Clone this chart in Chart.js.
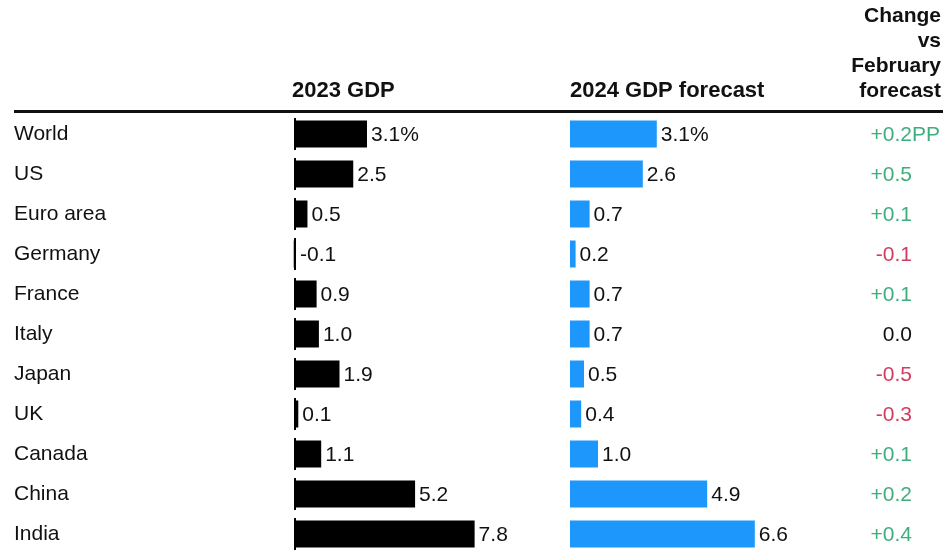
<!DOCTYPE html>
<html>
<head>
<meta charset="utf-8">
<script src="https://cdn.jsdelivr.net/npm/chart.js@4.4.1/dist/chart.umd.min.js"></script>
<style>
  body { margin: 0; background: #fff; }
  canvas { display: block; }
</style>
</head>
<body>
<canvas id="gdpChart" width="952" height="555"></canvas>
<script>
const countries = ['World', 'US', 'Euro area', 'Germany', 'France', 'Italy', 'Japan', 'UK', 'Canada', 'China', 'India'];
const gdp2023 = [3.1, 2.5, 0.5, -0.1, 0.9, 1.0, 1.9, 0.1, 1.1, 5.2, 7.8];
const gdp2024 = [3.1, 2.6, 0.7, 0.2, 0.7, 0.7, 0.5, 0.4, 1.0, 4.9, 6.6];
const changeVsFeb = [0.2, 0.5, 0.1, -0.1, 0.1, 0.0, -0.5, -0.3, 0.1, 0.2, 0.4];
const headers = ['2023 GDP', '2024 GDP forecast'];
const changeHeader = ['Change', 'vs', 'February', 'forecast'];

const FONT = '"Liberation Sans", Arial, Helvetica, sans-serif';
const BLUE = '#1d97fc';
const GREEN = '#3fae7f';
const RED = '#d23b62';

// bar columns share one chart area, each with its own hidden x scale
const AREA_LEFT = 280, AREA_RIGHT = 952;
const zero23 = 296, px23 = 22.9;
const zero24 = 570, px24 = 28;

function fmtChange(v) {
  if (v > 0) return '+' + v.toFixed(1);
  if (v < 0) return '-' + Math.abs(v).toFixed(1);
  return v.toFixed(1);
}

const tablePlugin = {
  id: 'table',
  beforeDatasetsDraw(chart) {
    const ctx = chart.ctx;
    const y = chart.scales.y;
    const x0 = chart.scales.x1.getPixelForValue(0);
    ctx.save();
    ctx.fillStyle = '#000';
    countries.forEach((c, i) => {
      const yc = y.getPixelForValue(i);
      ctx.fillRect(x0 - 2, yc - 16, 2, 32);
    });
    ctx.restore();
  },
  afterDatasetsDraw(chart) {
    const ctx = chart.ctx;
    const y = chart.scales.y;
    ctx.save();

    // headers
    ctx.fillStyle = '#111';
    ctx.font = 'bold 22px ' + FONT;
    ctx.textAlign = 'left';
    ctx.textBaseline = 'alphabetic';
    ctx.fillText(headers[0], 292, 97);
    ctx.fillText(headers[1], 570, 97);
    ctx.font = 'bold 21px ' + FONT;
    ctx.textAlign = 'right';
    changeHeader.forEach((t, i) => ctx.fillText(t, 941, 22 + i * 25));

    // rule under header
    ctx.fillRect(14, 110, 929, 3);

    // value labels
    ctx.font = '21px ' + FONT;
    ctx.textAlign = 'left';
    ctx.textBaseline = 'middle';
    ctx.fillStyle = '#111';
    chart.data.datasets.forEach((ds, di) => {
      chart.getDatasetMeta(di).data.forEach((bar, j) => {
        const end = Math.max(bar.x, bar.base);
        const txt = ds.data[j].toFixed(1) + (j === 0 ? '%' : '');
        ctx.fillText(txt, end + 4, bar.y + 1);
      });
    });

    // change column
    changeVsFeb.forEach((v, i) => {
      const yc = y.getPixelForValue(i) + 1;
      ctx.fillStyle = v > 0 ? GREEN : (v < 0 ? RED : '#111');
      ctx.textAlign = 'right';
      ctx.fillText(fmtChange(v), 912, yc);
      if (i === 0) {
        ctx.textAlign = 'left';
        ctx.fillText('PP', 912, yc);
      }
    });
    ctx.restore();
  }
};

new Chart(document.getElementById('gdpChart'), {
  type: 'bar',
  data: {
    labels: countries,
    datasets: [
      { data: gdp2023, xAxisID: 'x1', backgroundColor: '#000', grouped: false,
        categoryPercentage: 1, barPercentage: 0.675 },
      { data: gdp2024, xAxisID: 'x2', backgroundColor: BLUE, grouped: false,
        categoryPercentage: 1, barPercentage: 0.675 }
    ]
  },
  options: {
    indexAxis: 'y',
    responsive: false,
    animation: false,
    layout: { padding: { left: 14, top: 114, right: 0, bottom: 1 } },
    scales: {
      y: {
        grid: { display: false },
        border: { display: false },
        ticks: { color: '#111', font: { family: FONT, size: 21 }, crossAlign: 'far', padding: 0 },
        afterFit: s => {
          s.width = AREA_LEFT - 14;
          s.paddingTop = 0;
          s.paddingBottom = 0;
        }
      },
      x1: {
        display: false,
        min: (AREA_LEFT - zero23) / px23,
        max: (AREA_RIGHT - zero23) / px23
      },
      x2: {
        display: false,
        min: (AREA_LEFT - zero24) / px24,
        max: (AREA_RIGHT - zero24) / px24
      }
    },
    plugins: { legend: { display: false }, tooltip: { enabled: false } }
  },
  plugins: [tablePlugin]
});
</script>
</body>
</html>
